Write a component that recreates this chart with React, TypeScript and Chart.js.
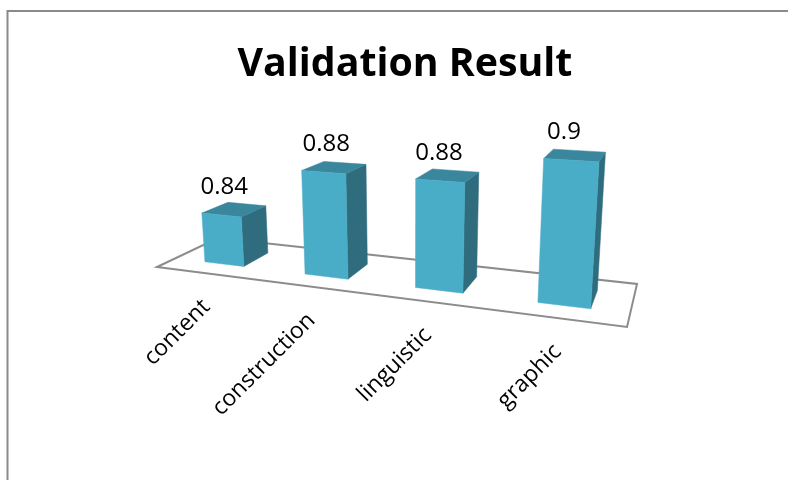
import { useEffect, useRef } from "react";
import { Chart, registerables } from "chart.js";

Chart.register(...registerables);

const categories = ["content", "construction", "linguistic", "graphic"];
const scores = [0.84, 0.88, 0.88, 0.9];
const chartTitle = "Validation Result";

const FONT = '"Open Sans", sans-serif';
const FRONT = "#4aadc8";
const TOP = "#3a869c";
const SIDE = "#2f6d7e";
const EDGE = "#8c8c8c";

// Perspective camera: the floor is a unit square (u across, d into the page)
// mapped to its on-screen quad, and height recedes to a vertical vanishing point.
const FLOOR = { a: 350.6, b: 88.5, c: 157, d: -2.3, e: 1.06, f: 267, g: -0.1905, h: 0.1263 };
const VANISH = { x: 410, y: 3500 };
const LIFT = -0.0756;
const DEPTH_NEAR = 0.28;
const DEPTH_FAR = 0.72;
const COLUMN_SHIFT = 0.003;

function project(u: number, d: number, z: number): [number, number] {
  const F = FLOOR;
  const k = LIFT * z;
  const w = F.g * u + F.h * d + 1 + k;
  return [
    (F.a * u + F.b * d + F.c + k * VANISH.x) / w,
    (F.d * u + F.e * d + F.f + k * VANISH.y) / w,
  ];
}

function face(ctx: CanvasRenderingContext2D, pts: [number, number][], fill: string) {
  ctx.beginPath();
  pts.forEach(([x, y], i) => (i ? ctx.lineTo(x, y) : ctx.moveTo(x, y)));
  ctx.closePath();
  ctx.fillStyle = fill;
  ctx.fill();
  ctx.strokeStyle = fill;
  ctx.lineWidth = 0.5;
  ctx.stroke();
}

// Frame and floor sit behind the columns.
const framePlugin = {
  id: "frame3d",
  beforeDatasetsDraw(chart: Chart) {
    const { ctx } = chart;
    ctx.save();
    ctx.strokeStyle = "#8a8a8a";
    ctx.lineWidth = 2;
    ctx.strokeRect(7.5, 11, 900, 600);
    ctx.strokeStyle = EDGE;
    ctx.lineWidth = 2;
    ctx.lineJoin = "miter";
    ctx.beginPath();
    const corners: [number, number, number][] = [[0, 0, 0], [1, 0, 0], [1, 1, 0], [0, 1, 0]];
    corners.forEach(([u, d, z], i) => {
      const [x, y] = project(u, d, z);
      if (i) ctx.lineTo(x, y);
      else ctx.moveTo(x, y);
    });
    ctx.closePath();
    ctx.stroke();
    ctx.restore();
  },
};

// Replaces the flat bars with extruded columns, keeping the geometry the
// bar elements received from the category and value scales.
const columnsPlugin = {
  id: "columns3d",
  beforeDatasetDraw(chart: Chart) {
    const { ctx, chartArea } = chart;
    const W = chartArea.right - chartArea.left;
    const H = chartArea.bottom - chartArea.top;
    const meta = chart.getDatasetMeta(0);
    const xScale = chart.scales.x;
    const yScale = chart.scales.y;
    const floorPixel = yScale.getPixelForValue(yScale.min);
    ctx.save();
    meta.data.forEach((el: any, i: number) => {
      const { x, y, width } = el.getProps(["x", "y", "width"]);
      const uc = (x - chartArea.left) / W + COLUMN_SHIFT;
      const half = width / 2 / W;
      const u0 = uc - half;
      const u1 = uc + half;
      const z = (floorPixel - y) / H;
      const n = DEPTH_NEAR;
      const f = DEPTH_FAR;

      face(ctx, [project(u1, n, 0), project(u1, f, 0), project(u1, f, z), project(u1, n, z)], SIDE);
      face(ctx, [project(u0, n, z), project(u1, n, z), project(u1, f, z), project(u0, f, z)], TOP);
      face(ctx, [project(u0, n, 0), project(u1, n, 0), project(u1, n, z), project(u0, n, z)], FRONT);

      ctx.fillStyle = "#000";
      ctx.textAlign = "center";
      ctx.textBaseline = "middle";
      ctx.font = `24px ${FONT}`;
      const labelX = project(uc, n, 0)[0];
      const labelY = project(uc, n, z)[1] - 28;
      ctx.fillText(String(chart.data.datasets[0].data[i]), labelX, labelY);

      ctx.font = `23px ${FONT}`;
      const [ax, ay] = project(uc, 0, 0);
      ctx.save();
      ctx.translate(ax - 0.5, ay + 30);
      ctx.rotate(-Math.PI / 4);
      ctx.textAlign = "right";
      ctx.fillText(xScale.getLabelForValue(i), 0, 0);
      ctx.restore();
    });
    ctx.restore();
    return false;
  },
};

export default function App() {
  const ref = useRef<HTMLCanvasElement>(null);

  useEffect(() => {
    if (!ref.current) return;
    const chart = new Chart(ref.current, {
      type: "bar",
      data: {
        labels: categories,
        datasets: [{ label: chartTitle, data: scores, backgroundColor: FRONT, categoryPercentage: 1, barPercentage: 0.4 }],
      },
      options: {
        animation: false,
        responsive: false,
        devicePixelRatio: 1,
        layout: { padding: { left: 22, right: 0, top: 0, bottom: 0 } },
        scales: {
          x: { display: false },
          y: { display: false, min: 0.8, max: 1 },
        },
        plugins: {
          legend: { display: false },
          tooltip: { enabled: false },
          title: {
            display: true,
            text: chartTitle,
            color: "#000",
            font: { family: FONT, size: 39.3, weight: "bold" },
            padding: { top: 41, bottom: 10 },
          },
        },
      },
      plugins: [framePlugin, columnsPlugin],
    });
    return () => chart.destroy();
  }, []);

  return (
    <div style={{ position: "fixed", left: 0, top: 0, width: 788, height: 480, background: "#fff" }}>
      <canvas ref={ref} width={788} height={480} style={{ display: "block" }} />
    </div>
  );
}
